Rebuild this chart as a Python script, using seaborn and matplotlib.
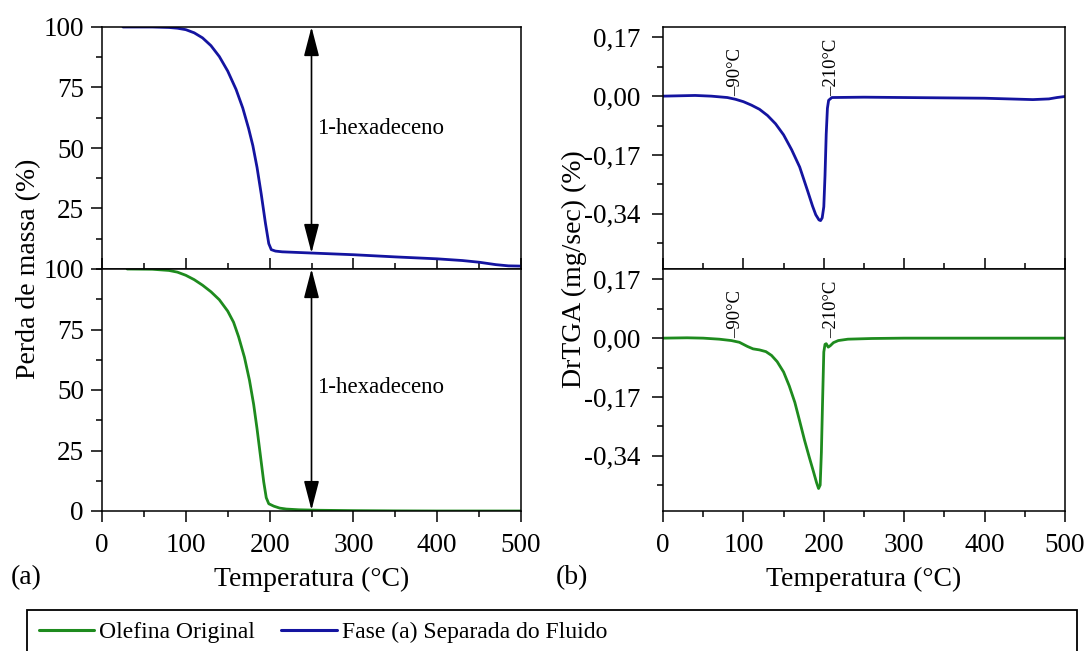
import matplotlib
matplotlib.use("Agg")
import numpy as np
import matplotlib.pyplot as plt
from matplotlib.patches import Rectangle
from matplotlib.lines import Line2D
from matplotlib.ticker import MultipleLocator
import seaborn as sns

# ---- TGA curves: residual mass (%) vs temperature (°C) ----
tga_fase_temp = [25, 60, 80, 90, 100, 110, 120, 130, 140, 150, 160, 168, 175, 180,
                 185, 190, 195, 199, 202, 207, 215, 250, 300, 350, 400, 430, 450,
                 470, 485, 500]
tga_fase_mass = [100, 100, 99.8, 99.5, 98.9, 97.6, 95.5, 92.3, 87.8, 81.8, 74.2, 66.5,
                 58, 51, 42, 31, 19, 10.5, 8, 7.4, 7.1, 6.6, 5.9, 5.0, 4.2, 3.5, 2.8,
                 1.8, 1.3, 1.2]

tga_olef_temp = [30, 60, 80, 90, 100, 110, 120, 130, 140, 150, 157, 163, 170, 176,
                 181, 185, 189, 193, 196, 199, 205, 212, 220, 235, 260, 300, 350,
                 400, 500]
tga_olef_mass = [100, 99.9, 99.4, 98.7, 97.4, 95.6, 93.3, 90.6, 87.3, 82.6, 78, 72,
                 63.5, 54, 44, 34, 23, 12, 5.5, 3, 2.0, 1.2, 0.8, 0.5, 0.3, 0.15, 0.05,
                 0, 0]

# ---- DrTGA curves: derivative of mass loss ----
dtg_fase_temp = [0, 20, 40, 60, 80, 90, 100, 110, 120, 130, 140, 150, 160, 170, 180,
                 186, 190, 194, 196, 198, 200, 201.5, 203, 204.5, 206, 210, 250, 300,
                 350, 400, 430, 460, 480, 490, 500]
dtg_fase_rate = [0.000, 0.001, 0.002, 0.000, -0.004, -0.009, -0.016, -0.026, -0.038,
                 -0.056, -0.080, -0.112, -0.155, -0.205, -0.275, -0.318, -0.343,
                 -0.358, -0.360, -0.352, -0.320, -0.230, -0.110, -0.035, -0.012,
                 -0.004, -0.003, -0.004, -0.005, -0.006, -0.008, -0.010, -0.008,
                 -0.004, -0.001]

dtg_olef_temp = [0, 30, 50, 70, 85, 95, 105, 112, 120, 128, 135, 142, 150, 157, 164,
                 170, 176, 182, 187, 191, 193.5, 195.5, 197, 198.5, 200, 201.5, 203,
                 205.5, 208, 212, 218, 230, 260, 300, 500]
dtg_olef_rate = [0.000, 0.001, 0.000, -0.003, -0.007, -0.012, -0.024, -0.031, -0.034,
                 -0.039, -0.050, -0.068, -0.098, -0.138, -0.186, -0.240, -0.295,
                 -0.345, -0.385, -0.418, -0.435, -0.425, -0.330, -0.180, -0.040,
                 -0.018, -0.016, -0.026, -0.022, -0.013, -0.007, -0.003, -0.001,
                 0.000, 0.000]

# ---- axis ticks, labels and annotations ----
temp_ticks = [0, 100, 200, 300, 400, 500]
mass_ticks_top = [25, 50, 75, 100]
mass_ticks_bottom = [0, 25, 50, 75, 100]
rate_ticks = [0.17, 0.00, -0.17, -0.34]
rate_tick_labels = ["0,17", "0,00", "-0,17", "-0,34"]
onset_temps = [90, 210]
onset_labels = ["\u201390°C", "\u2013210°C"]
band_temp = 250
band_label = "1-hexadeceno"
series_names = ["Olefina Original", "Fase (a) Separada do Fluido"]

GREEN = "#1E8B1E"
BLUE = "#1414A0"

sns.set_style("ticks")
plt.rcParams["font.family"] = ["Liberation Serif", "DejaVu Serif"]
plt.rcParams["axes.linewidth"] = 1.1
plt.rcParams["axes.edgecolor"] = "black"
plt.rcParams["text.color"] = "black"
plt.rcParams["axes.labelcolor"] = "black"
plt.rcParams["xtick.color"] = "black"
plt.rcParams["ytick.color"] = "black"

W, H = 1092, 651
fig = plt.figure(figsize=(W / 100, H / 100), dpi=100)


def px_rect(x0, y0, x1, y1):
    return [x0 / W, 1 - y1 / H, (x1 - x0) / W, (y1 - y0) / H]


ax_tl = fig.add_axes(px_rect(102, 27, 521, 269))
ax_bl = fig.add_axes(px_rect(102, 269, 521, 511))
ax_tr = fig.add_axes(px_rect(663, 27, 1065, 269))
ax_br = fig.add_axes(px_rect(663, 269, 1065, 511))

TICK_FS = 19.5
LABEL_FS = 20

line_kw = dict(linewidth=2.0, estimator=None, sort=False, legend=False)
sns.lineplot(x=tga_fase_temp, y=tga_fase_mass, ax=ax_tl, color=BLUE, **line_kw)
sns.lineplot(x=tga_olef_temp, y=tga_olef_mass, ax=ax_bl, color=GREEN, **line_kw)
sns.lineplot(x=dtg_fase_temp, y=dtg_fase_rate, ax=ax_tr, color=BLUE, **line_kw)
sns.lineplot(x=dtg_olef_temp, y=dtg_olef_rate, ax=ax_br, color=GREEN, **line_kw)

for ax in (ax_tl, ax_bl, ax_tr, ax_br):
    ax.set_xlim(0, 500)
    ax.set_xticks(temp_ticks)
    ax.xaxis.set_minor_locator(MultipleLocator(50))
    ax.set_xlabel("")
    ax.set_ylabel("")
    for s in ax.spines.values():
        s.set_visible(True)
        s.set_linewidth(1.1)
        s.set_color("black")
    ax.tick_params(axis="both", which="major", length=8, width=1.1,
                   labelsize=TICK_FS, colors="black")
    ax.tick_params(axis="both", which="minor", length=4, width=1.1,
                   colors="black")
    ax.tick_params(axis="y", which="both", direction="out", right=False)
    ax.tick_params(axis="x", which="both", top=False)

# top panels: inward x ticks, no labels
for ax in (ax_tl, ax_tr):
    ax.tick_params(axis="x", which="both", direction="in", labelbottom=False)
# bottom panels: outward x ticks with labels
for ax in (ax_bl, ax_br):
    ax.tick_params(axis="x", which="both", direction="out", pad=8)
    ax.set_xlabel("Temperatura (°C)", fontsize=LABEL_FS, labelpad=6)

# mass axes
ax_tl.set_ylim(0, 100)
ax_bl.set_ylim(0, 100)
ax_tl.set_yticks(mass_ticks_top)
ax_bl.set_yticks(mass_ticks_bottom)
for ax in (ax_tl, ax_bl):
    ax.yaxis.set_minor_locator(MultipleLocator(12.5))
    ax.tick_params(axis="y", which="major", pad=5)

# derivative axes
for ax in (ax_tr, ax_br):
    ax.set_ylim(-0.5, 0.2)
    ax.set_yticks(rate_ticks)
    ax.set_yticklabels(rate_tick_labels)
    ax.yaxis.set_minor_locator(MultipleLocator(0.085))
    ax.tick_params(axis="y", which="major", pad=8)

# double-headed arrows marking the mass loss band
arrow_kw = dict(arrowstyle="<|-|>,head_length=1.0,head_width=0.26",
                mutation_scale=18, color="black", lw=1.2,
                shrinkA=0, shrinkB=0)
for ax, temps, mass, text_y in ((ax_tl, tga_fase_temp, tga_fase_mass, 58),
                                (ax_bl, tga_olef_temp, tga_olef_mass, 51)):
    low = float(np.interp(band_temp, temps, mass))
    ax.annotate("", xy=(band_temp, 100), xytext=(band_temp, low),
                arrowprops=arrow_kw, annotation_clip=False)
    ax.text(band_temp + 7, text_y, band_label, fontsize=16.5,
            ha="left", va="center")

# onset temperature markers on the derivative curves
for ax in (ax_tr, ax_br):
    for t, lab in zip(onset_temps, onset_labels):
        ax.text(t, 0.0, lab, rotation=90, fontsize=13.5,
                ha="center", va="bottom")

# shared y labels and panel tags
fig.text(29 / W, 1 - 269 / H, "Perda de massa (%)", rotation=90,
         fontsize=LABEL_FS, ha="center", va="center")
fig.text(574 / W, 1 - 269 / H, "DrTGA (mg/sec) (%)", rotation=90,
         fontsize=LABEL_FS, ha="center", va="center")
fig.text(11 / W, 1 - 578 / H, "(a)", fontsize=LABEL_FS, ha="left", va="center")
fig.text(556 / W, 1 - 578 / H, "(b)", fontsize=LABEL_FS, ha="left", va="center")

# legend in a full-width box along the bottom
handles = [Line2D([0], [0], color=GREEN, lw=2.2),
           Line2D([0], [0], color=BLUE, lw=2.2)]
fig.legend(handles, series_names, loc="upper left",
           bbox_to_anchor=(27 / W, 1 - 610 / H), ncol=2, frameon=False,
           fontsize=17, handlelength=2.35, handletextpad=0.22,
           columnspacing=1.1, borderpad=0.5, borderaxespad=0)
fig.add_artist(Rectangle((27 / W, 1 - 665 / H), (1077 - 27) / W, 55 / H,
                         transform=fig.transFigure, fill=False,
                         edgecolor="black", linewidth=1.3))

fig.savefig("out.png", dpi=100)
